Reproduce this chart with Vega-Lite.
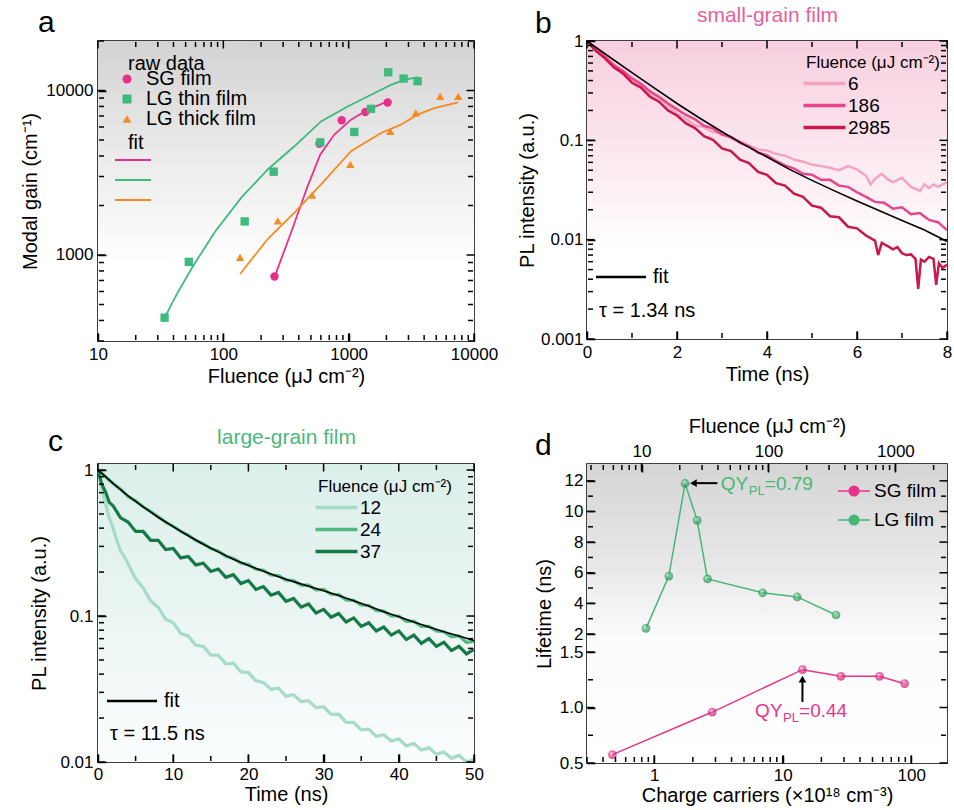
{
  "$schema": "https://vega.github.io/schema/vega-lite/v6.json",
  "background": "white",
  "padding": {"left": 19, "top": 3, "right": 0, "bottom": 0},
  "columns": 2,
  "bounds": "flush",
  "spacing": {"row": 123, "column": 113},
  "resolve": {
    "scale": {"color": "independent", "fill": "independent", "stroke": "independent", "shape": "independent"},
    "legend": {"color": "independent", "fill": "independent", "stroke": "independent", "shape": "independent"}
  },
  "datasets": {
    "one": [{"k": 1}],
    "aTicks": [
      {"axis": "x", "v": 10, "kind": "major"}, {"axis": "x", "v": 100, "kind": "major"}, {"axis": "x", "v": 1000, "kind": "major"}, {"axis": "x", "v": 10000, "kind": "major"},
      {"axis": "x", "v": 20, "kind": "minor"}, {"axis": "x", "v": 30, "kind": "minor"}, {"axis": "x", "v": 40, "kind": "minor"}, {"axis": "x", "v": 50, "kind": "minor"},
      {"axis": "x", "v": 60, "kind": "minor"}, {"axis": "x", "v": 70, "kind": "minor"}, {"axis": "x", "v": 80, "kind": "minor"}, {"axis": "x", "v": 90, "kind": "minor"},
      {"axis": "x", "v": 200, "kind": "minor"}, {"axis": "x", "v": 300, "kind": "minor"}, {"axis": "x", "v": 400, "kind": "minor"}, {"axis": "x", "v": 500, "kind": "minor"},
      {"axis": "x", "v": 600, "kind": "minor"}, {"axis": "x", "v": 700, "kind": "minor"}, {"axis": "x", "v": 800, "kind": "minor"}, {"axis": "x", "v": 900, "kind": "minor"},
      {"axis": "x", "v": 2000, "kind": "minor"}, {"axis": "x", "v": 3000, "kind": "minor"}, {"axis": "x", "v": 4000, "kind": "minor"}, {"axis": "x", "v": 5000, "kind": "minor"},
      {"axis": "x", "v": 6000, "kind": "minor"}, {"axis": "x", "v": 7000, "kind": "minor"}, {"axis": "x", "v": 8000, "kind": "minor"}, {"axis": "x", "v": 9000, "kind": "minor"},
      {"axis": "y", "v": 1000, "kind": "major"}, {"axis": "y", "v": 10000, "kind": "major"},
      {"axis": "y", "v": 300, "kind": "minor"}, {"axis": "y", "v": 400, "kind": "minor"}, {"axis": "y", "v": 500, "kind": "minor"}, {"axis": "y", "v": 600, "kind": "minor"},
      {"axis": "y", "v": 700, "kind": "minor"}, {"axis": "y", "v": 800, "kind": "minor"}, {"axis": "y", "v": 900, "kind": "minor"}, {"axis": "y", "v": 2000, "kind": "minor"},
      {"axis": "y", "v": 3000, "kind": "minor"}, {"axis": "y", "v": 4000, "kind": "minor"}, {"axis": "y", "v": 5000, "kind": "minor"}, {"axis": "y", "v": 6000, "kind": "minor"},
      {"axis": "y", "v": 7000, "kind": "minor"}, {"axis": "y", "v": 8000, "kind": "minor"}, {"axis": "y", "v": 9000, "kind": "minor"}, {"axis": "y", "v": 20000, "kind": "minor"}
    ],
    "bTicks": [
      {"axis": "x", "v": 0, "kind": "major"}, {"axis": "x", "v": 2, "kind": "major"}, {"axis": "x", "v": 4, "kind": "major"}, {"axis": "x", "v": 6, "kind": "major"}, {"axis": "x", "v": 8, "kind": "major"},
      {"axis": "x", "v": 1, "kind": "minor"}, {"axis": "x", "v": 3, "kind": "minor"}, {"axis": "x", "v": 5, "kind": "minor"}, {"axis": "x", "v": 7, "kind": "minor"},
      {"axis": "y", "v": 0.001, "kind": "major"}, {"axis": "y", "v": 0.01, "kind": "major"}, {"axis": "y", "v": 0.1, "kind": "major"}, {"axis": "y", "v": 1, "kind": "major"},
      {"axis": "y", "v": 0.002, "kind": "minor"}, {"axis": "y", "v": 0.003, "kind": "minor"}, {"axis": "y", "v": 0.004, "kind": "minor"}, {"axis": "y", "v": 0.005, "kind": "minor"},
      {"axis": "y", "v": 0.006, "kind": "minor"}, {"axis": "y", "v": 0.007, "kind": "minor"}, {"axis": "y", "v": 0.008, "kind": "minor"}, {"axis": "y", "v": 0.009, "kind": "minor"},
      {"axis": "y", "v": 0.02, "kind": "minor"}, {"axis": "y", "v": 0.03, "kind": "minor"}, {"axis": "y", "v": 0.04, "kind": "minor"}, {"axis": "y", "v": 0.05, "kind": "minor"},
      {"axis": "y", "v": 0.06, "kind": "minor"}, {"axis": "y", "v": 0.07, "kind": "minor"}, {"axis": "y", "v": 0.08, "kind": "minor"}, {"axis": "y", "v": 0.09, "kind": "minor"},
      {"axis": "y", "v": 0.2, "kind": "minor"}, {"axis": "y", "v": 0.3, "kind": "minor"}, {"axis": "y", "v": 0.4, "kind": "minor"}, {"axis": "y", "v": 0.5, "kind": "minor"},
      {"axis": "y", "v": 0.6, "kind": "minor"}, {"axis": "y", "v": 0.7, "kind": "minor"}, {"axis": "y", "v": 0.8, "kind": "minor"}, {"axis": "y", "v": 0.9, "kind": "minor"}
    ],
    "cTicks": [
      {"axis": "x", "v": 0, "kind": "major"}, {"axis": "x", "v": 10, "kind": "major"}, {"axis": "x", "v": 20, "kind": "major"}, {"axis": "x", "v": 30, "kind": "major"},
      {"axis": "x", "v": 40, "kind": "major"}, {"axis": "x", "v": 50, "kind": "major"},
      {"axis": "x", "v": 5, "kind": "minor"}, {"axis": "x", "v": 15, "kind": "minor"}, {"axis": "x", "v": 25, "kind": "minor"}, {"axis": "x", "v": 35, "kind": "minor"}, {"axis": "x", "v": 45, "kind": "minor"},
      {"axis": "y", "v": 0.01, "kind": "major"}, {"axis": "y", "v": 0.1, "kind": "major"}, {"axis": "y", "v": 1, "kind": "major"},
      {"axis": "y", "v": 0.02, "kind": "minor"}, {"axis": "y", "v": 0.03, "kind": "minor"}, {"axis": "y", "v": 0.04, "kind": "minor"}, {"axis": "y", "v": 0.05, "kind": "minor"},
      {"axis": "y", "v": 0.06, "kind": "minor"}, {"axis": "y", "v": 0.07, "kind": "minor"}, {"axis": "y", "v": 0.08, "kind": "minor"}, {"axis": "y", "v": 0.09, "kind": "minor"},
      {"axis": "y", "v": 0.2, "kind": "minor"}, {"axis": "y", "v": 0.3, "kind": "minor"}, {"axis": "y", "v": 0.4, "kind": "minor"}, {"axis": "y", "v": 0.5, "kind": "minor"},
      {"axis": "y", "v": 0.6, "kind": "minor"}, {"axis": "y", "v": 0.7, "kind": "minor"}, {"axis": "y", "v": 0.8, "kind": "minor"}, {"axis": "y", "v": 0.9, "kind": "minor"}
    ],
    "dTicks": [
      {"axis": "c", "v": 1, "kind": "major"}, {"axis": "c", "v": 10, "kind": "major"}, {"axis": "c", "v": 100, "kind": "major"},
      {"axis": "c", "v": 0.3, "kind": "minor"}, {"axis": "c", "v": 0.4, "kind": "minor"}, {"axis": "c", "v": 0.5, "kind": "minor"}, {"axis": "c", "v": 0.6, "kind": "minor"},
      {"axis": "c", "v": 0.7, "kind": "minor"}, {"axis": "c", "v": 0.8, "kind": "minor"}, {"axis": "c", "v": 0.9, "kind": "minor"},
      {"axis": "c", "v": 2, "kind": "minor"}, {"axis": "c", "v": 3, "kind": "minor"}, {"axis": "c", "v": 4, "kind": "minor"}, {"axis": "c", "v": 5, "kind": "minor"},
      {"axis": "c", "v": 6, "kind": "minor"}, {"axis": "c", "v": 7, "kind": "minor"}, {"axis": "c", "v": 8, "kind": "minor"}, {"axis": "c", "v": 9, "kind": "minor"},
      {"axis": "c", "v": 20, "kind": "minor"}, {"axis": "c", "v": 30, "kind": "minor"}, {"axis": "c", "v": 40, "kind": "minor"}, {"axis": "c", "v": 50, "kind": "minor"},
      {"axis": "c", "v": 60, "kind": "minor"}, {"axis": "c", "v": 70, "kind": "minor"}, {"axis": "c", "v": 80, "kind": "minor"}, {"axis": "c", "v": 90, "kind": "minor"},
      {"axis": "f", "v": 10, "kind": "major"}, {"axis": "f", "v": 100, "kind": "major"}, {"axis": "f", "v": 1000, "kind": "major"},
      {"axis": "f", "v": 4, "kind": "minor"}, {"axis": "f", "v": 5, "kind": "minor"}, {"axis": "f", "v": 6, "kind": "minor"}, {"axis": "f", "v": 7, "kind": "minor"},
      {"axis": "f", "v": 8, "kind": "minor"}, {"axis": "f", "v": 9, "kind": "minor"},
      {"axis": "f", "v": 20, "kind": "minor"}, {"axis": "f", "v": 30, "kind": "minor"}, {"axis": "f", "v": 40, "kind": "minor"}, {"axis": "f", "v": 50, "kind": "minor"},
      {"axis": "f", "v": 60, "kind": "minor"}, {"axis": "f", "v": 70, "kind": "minor"}, {"axis": "f", "v": 80, "kind": "minor"}, {"axis": "f", "v": 90, "kind": "minor"},
      {"axis": "f", "v": 200, "kind": "minor"}, {"axis": "f", "v": 300, "kind": "minor"}, {"axis": "f", "v": 400, "kind": "minor"}, {"axis": "f", "v": 500, "kind": "minor"},
      {"axis": "f", "v": 600, "kind": "minor"}, {"axis": "f", "v": 700, "kind": "minor"}, {"axis": "f", "v": 800, "kind": "minor"}, {"axis": "f", "v": 900, "kind": "minor"},
      {"axis": "f", "v": 2000, "kind": "minor"},
      {"axis": "s", "v": 0.5, "kind": "major"}, {"axis": "s", "v": 1, "kind": "major"}, {"axis": "s", "v": 1.5, "kind": "major"},
      {"axis": "s", "v": 0.75, "kind": "minor"}, {"axis": "s", "v": 1.25, "kind": "minor"},
      {"axis": "l", "v": 2, "kind": "major"}, {"axis": "l", "v": 4, "kind": "major"}, {"axis": "l", "v": 6, "kind": "major"}, {"axis": "l", "v": 8, "kind": "major"},
      {"axis": "l", "v": 10, "kind": "major"}, {"axis": "l", "v": 12, "kind": "major"},
      {"axis": "l", "v": 3, "kind": "minor"}, {"axis": "l", "v": 5, "kind": "minor"}, {"axis": "l", "v": 7, "kind": "minor"}, {"axis": "l", "v": 9, "kind": "minor"}, {"axis": "l", "v": 11, "kind": "minor"}
    ],
    "aPts": [
      {"fluence": 256, "gain": 740, "film": "SG film"},
      {"fluence": 584, "gain": 4750, "film": "SG film"},
      {"fluence": 879, "gain": 6590, "film": "SG film"},
      {"fluence": 1358, "gain": 7400, "film": "SG film"},
      {"fluence": 2046, "gain": 8460, "film": "SG film"},
      {"fluence": 34, "gain": 416, "film": "LG thin film"},
      {"fluence": 53, "gain": 908, "film": "LG thin film"},
      {"fluence": 148, "gain": 1600, "film": "LG thin film"},
      {"fluence": 252, "gain": 3210, "film": "LG thin film"},
      {"fluence": 594, "gain": 4840, "film": "LG thin film"},
      {"fluence": 1109, "gain": 5600, "film": "LG thin film"},
      {"fluence": 1506, "gain": 7740, "film": "LG thin film"},
      {"fluence": 2070, "gain": 12910, "film": "LG thin film"},
      {"fluence": 2743, "gain": 11820, "film": "LG thin film"},
      {"fluence": 3548, "gain": 11390, "film": "LG thin film"},
      {"fluence": 136, "gain": 968, "film": "LG thick film"},
      {"fluence": 272, "gain": 1615, "film": "LG thick film"},
      {"fluence": 510, "gain": 2310, "film": "LG thick film"},
      {"fluence": 1031, "gain": 3550, "film": "LG thick film"},
      {"fluence": 2148, "gain": 5650, "film": "LG thick film"},
      {"fluence": 3435, "gain": 7300, "film": "LG thick film"},
      {"fluence": 5370, "gain": 9200, "film": "LG thick film"},
      {"fluence": 7480, "gain": 9200, "film": "LG thick film"}
    ],
    "aFit": [
      {"fluence": 256, "gain": 733, "fit": "SG fit"},
      {"fluence": 347, "gain": 1371, "fit": "SG fit"},
      {"fluence": 471, "gain": 2625, "fit": "SG fit"},
      {"fluence": 594, "gain": 4085, "fit": "SG fit"},
      {"fluence": 769, "gain": 5400, "fit": "SG fit"},
      {"fluence": 1045, "gain": 6650, "fit": "SG fit"},
      {"fluence": 1417, "gain": 7640, "fit": "SG fit"},
      {"fluence": 2046, "gain": 8580, "fit": "SG fit"},
      {"fluence": 34, "gain": 416, "fit": "LG thin fit"},
      {"fluence": 43.4, "gain": 594, "fit": "LG thin fit"},
      {"fluence": 55.5, "gain": 822, "fit": "LG thin fit"},
      {"fluence": 85, "gain": 1371, "fit": "LG thin fit"},
      {"fluence": 139, "gain": 2233, "fit": "LG thin fit"},
      {"fluence": 226, "gain": 3310, "fit": "LG thin fit"},
      {"fluence": 369, "gain": 4580, "fit": "LG thin fit"},
      {"fluence": 602, "gain": 6490, "fit": "LG thin fit"},
      {"fluence": 982, "gain": 8000, "fit": "LG thin fit"},
      {"fluence": 1417, "gain": 9200, "fit": "LG thin fit"},
      {"fluence": 2174, "gain": 10820, "fit": "LG thin fit"},
      {"fluence": 2778, "gain": 11600, "fit": "LG thin fit"},
      {"fluence": 3548, "gain": 12050, "fit": "LG thin fit"},
      {"fluence": 136, "gain": 767, "fit": "LG thick fit"},
      {"fluence": 226, "gain": 1250, "fit": "LG thick fit"},
      {"fluence": 369, "gain": 1812, "fit": "LG thick fit"},
      {"fluence": 602, "gain": 2686, "fit": "LG thick fit"},
      {"fluence": 1045, "gain": 4275, "fit": "LG thick fit"},
      {"fluence": 1811, "gain": 5520, "fit": "LG thick fit"},
      {"fluence": 2612, "gain": 6200, "fit": "LG thick fit"},
      {"fluence": 3548, "gain": 7130, "fit": "LG thick fit"},
      {"fluence": 4820, "gain": 7820, "fit": "LG thick fit"},
      {"fluence": 7480, "gain": 8460, "fit": "LG thick fit"}
    ],
    "bTr": [
      {"t": 0.0, "I": 1.0, "fluence": "6"}, {"t": 0.2, "I": 0.81, "fluence": "6"}, {"t": 0.4, "I": 0.68, "fluence": "6"}, {"t": 0.6, "I": 0.56, "fluence": "6"},
      {"t": 0.8, "I": 0.48, "fluence": "6"}, {"t": 1.0, "I": 0.41, "fluence": "6"}, {"t": 1.2, "I": 0.36, "fluence": "6"}, {"t": 1.4, "I": 0.30, "fluence": "6"},
      {"t": 1.6, "I": 0.265, "fluence": "6"}, {"t": 1.8, "I": 0.225, "fluence": "6"}, {"t": 2.0, "I": 0.185, "fluence": "6"}, {"t": 2.2, "I": 0.165, "fluence": "6"},
      {"t": 2.4, "I": 0.142, "fluence": "6"}, {"t": 2.6, "I": 0.135, "fluence": "6"}, {"t": 2.8, "I": 0.121, "fluence": "6"}, {"t": 3.0, "I": 0.118, "fluence": "6"},
      {"t": 3.2, "I": 0.105, "fluence": "6"}, {"t": 3.4, "I": 0.098, "fluence": "6"}, {"t": 3.6, "I": 0.088, "fluence": "6"}, {"t": 3.8, "I": 0.081, "fluence": "6"},
      {"t": 4.0, "I": 0.079, "fluence": "6"}, {"t": 4.2, "I": 0.073, "fluence": "6"}, {"t": 4.4, "I": 0.070, "fluence": "6"}, {"t": 4.6, "I": 0.064, "fluence": "6"},
      {"t": 4.8, "I": 0.061, "fluence": "6"}, {"t": 5.0, "I": 0.057, "fluence": "6"}, {"t": 5.2, "I": 0.055, "fluence": "6"}, {"t": 5.4, "I": 0.053, "fluence": "6"},
      {"t": 5.6, "I": 0.050, "fluence": "6"}, {"t": 5.8, "I": 0.055, "fluence": "6"}, {"t": 6.0, "I": 0.051, "fluence": "6"}, {"t": 6.2, "I": 0.044, "fluence": "6"},
      {"t": 6.3, "I": 0.036, "fluence": "6"}, {"t": 6.4, "I": 0.041, "fluence": "6"}, {"t": 6.55, "I": 0.046, "fluence": "6"}, {"t": 6.7, "I": 0.040, "fluence": "6"},
      {"t": 6.8, "I": 0.038, "fluence": "6"}, {"t": 7.0, "I": 0.042, "fluence": "6"}, {"t": 7.2, "I": 0.034, "fluence": "6"}, {"t": 7.4, "I": 0.031, "fluence": "6"},
      {"t": 7.5, "I": 0.036, "fluence": "6"}, {"t": 7.6, "I": 0.033, "fluence": "6"}, {"t": 7.7, "I": 0.036, "fluence": "6"}, {"t": 7.8, "I": 0.034, "fluence": "6"},
      {"t": 8.0, "I": 0.038, "fluence": "6"},
      {"t": 0.0, "I": 1.0, "fluence": "186"}, {"t": 0.2, "I": 0.82, "fluence": "186"}, {"t": 0.4, "I": 0.69, "fluence": "186"}, {"t": 0.6, "I": 0.57, "fluence": "186"},
      {"t": 0.8, "I": 0.50, "fluence": "186"}, {"t": 1.0, "I": 0.42, "fluence": "186"}, {"t": 1.2, "I": 0.37, "fluence": "186"}, {"t": 1.4, "I": 0.31, "fluence": "186"},
      {"t": 1.6, "I": 0.275, "fluence": "186"}, {"t": 1.8, "I": 0.235, "fluence": "186"}, {"t": 2.0, "I": 0.205, "fluence": "186"}, {"t": 2.2, "I": 0.180, "fluence": "186"},
      {"t": 2.4, "I": 0.163, "fluence": "186"}, {"t": 2.6, "I": 0.140, "fluence": "186"}, {"t": 2.8, "I": 0.132, "fluence": "186"}, {"t": 3.0, "I": 0.114, "fluence": "186"},
      {"t": 3.2, "I": 0.108, "fluence": "186"}, {"t": 3.4, "I": 0.094, "fluence": "186"}, {"t": 3.6, "I": 0.087, "fluence": "186"}, {"t": 3.8, "I": 0.075, "fluence": "186"},
      {"t": 4.0, "I": 0.071, "fluence": "186"}, {"t": 4.2, "I": 0.062, "fluence": "186"}, {"t": 4.4, "I": 0.056, "fluence": "186"}, {"t": 4.6, "I": 0.052, "fluence": "186"},
      {"t": 4.8, "I": 0.046, "fluence": "186"}, {"t": 5.0, "I": 0.045, "fluence": "186"}, {"t": 5.2, "I": 0.040, "fluence": "186"}, {"t": 5.4, "I": 0.040, "fluence": "186"},
      {"t": 5.6, "I": 0.035, "fluence": "186"}, {"t": 5.8, "I": 0.034, "fluence": "186"}, {"t": 6.0, "I": 0.030, "fluence": "186"}, {"t": 6.2, "I": 0.027, "fluence": "186"},
      {"t": 6.4, "I": 0.024, "fluence": "186"}, {"t": 6.6, "I": 0.0235, "fluence": "186"}, {"t": 6.8, "I": 0.0205, "fluence": "186"}, {"t": 7.0, "I": 0.0212, "fluence": "186"},
      {"t": 7.2, "I": 0.018, "fluence": "186"}, {"t": 7.4, "I": 0.0185, "fluence": "186"}, {"t": 7.6, "I": 0.0158, "fluence": "186"}, {"t": 7.8, "I": 0.015, "fluence": "186"},
      {"t": 8.0, "I": 0.0125, "fluence": "186"},
      {"t": 0.0, "I": 1.0, "fluence": "2985"}, {"t": 0.2, "I": 0.79, "fluence": "2985"}, {"t": 0.4, "I": 0.67, "fluence": "2985"}, {"t": 0.6, "I": 0.54, "fluence": "2985"},
      {"t": 0.8, "I": 0.47, "fluence": "2985"}, {"t": 1.0, "I": 0.38, "fluence": "2985"}, {"t": 1.2, "I": 0.34, "fluence": "2985"}, {"t": 1.4, "I": 0.275, "fluence": "2985"},
      {"t": 1.6, "I": 0.245, "fluence": "2985"}, {"t": 1.8, "I": 0.200, "fluence": "2985"}, {"t": 2.0, "I": 0.178, "fluence": "2985"}, {"t": 2.2, "I": 0.148, "fluence": "2985"},
      {"t": 2.4, "I": 0.133, "fluence": "2985"}, {"t": 2.6, "I": 0.110, "fluence": "2985"}, {"t": 2.8, "I": 0.101, "fluence": "2985"}, {"t": 3.0, "I": 0.083, "fluence": "2985"},
      {"t": 3.2, "I": 0.078, "fluence": "2985"}, {"t": 3.4, "I": 0.064, "fluence": "2985"}, {"t": 3.6, "I": 0.059, "fluence": "2985"}, {"t": 3.8, "I": 0.048, "fluence": "2985"},
      {"t": 4.0, "I": 0.045, "fluence": "2985"}, {"t": 4.2, "I": 0.037, "fluence": "2985"}, {"t": 4.4, "I": 0.035, "fluence": "2985"}, {"t": 4.6, "I": 0.029, "fluence": "2985"},
      {"t": 4.8, "I": 0.027, "fluence": "2985"}, {"t": 5.0, "I": 0.022, "fluence": "2985"}, {"t": 5.2, "I": 0.021, "fluence": "2985"}, {"t": 5.4, "I": 0.0172, "fluence": "2985"},
      {"t": 5.6, "I": 0.0168, "fluence": "2985"}, {"t": 5.8, "I": 0.0135, "fluence": "2985"}, {"t": 6.0, "I": 0.013, "fluence": "2985"}, {"t": 6.2, "I": 0.011, "fluence": "2985"},
      {"t": 6.4, "I": 0.0098, "fluence": "2985"}, {"t": 6.47, "I": 0.007, "fluence": "2985"}, {"t": 6.55, "I": 0.0093, "fluence": "2985"}, {"t": 6.7, "I": 0.0085, "fluence": "2985"},
      {"t": 6.8, "I": 0.008, "fluence": "2985"}, {"t": 6.9, "I": 0.0084, "fluence": "2985"}, {"t": 7.0, "I": 0.0073, "fluence": "2985"}, {"t": 7.1, "I": 0.007, "fluence": "2985"},
      {"t": 7.2, "I": 0.0071, "fluence": "2985"}, {"t": 7.3, "I": 0.0064, "fluence": "2985"}, {"t": 7.36, "I": 0.0032, "fluence": "2985"}, {"t": 7.42, "I": 0.0063, "fluence": "2985"},
      {"t": 7.5, "I": 0.006, "fluence": "2985"}, {"t": 7.6, "I": 0.0067, "fluence": "2985"}, {"t": 7.7, "I": 0.0064, "fluence": "2985"}, {"t": 7.76, "I": 0.0035, "fluence": "2985"},
      {"t": 7.82, "I": 0.0058, "fluence": "2985"}, {"t": 7.9, "I": 0.0052, "fluence": "2985"}, {"t": 8.0, "I": 0.0056, "fluence": "2985"}
    ],
    "bFit": [
      {"t": 0, "I": 1.0, "series": "fit"}, {"t": 0.5, "I": 0.69, "series": "fit"}, {"t": 1, "I": 0.48, "series": "fit"}, {"t": 1.5, "I": 0.335, "series": "fit"},
      {"t": 2, "I": 0.235, "series": "fit"}, {"t": 2.5, "I": 0.168, "series": "fit"}, {"t": 3, "I": 0.122, "series": "fit"}, {"t": 3.5, "I": 0.09, "series": "fit"},
      {"t": 4, "I": 0.068, "series": "fit"}, {"t": 4.5, "I": 0.051, "series": "fit"}, {"t": 5, "I": 0.0395, "series": "fit"}, {"t": 5.5, "I": 0.031, "series": "fit"},
      {"t": 6, "I": 0.0245, "series": "fit"}, {"t": 6.5, "I": 0.0195, "series": "fit"}, {"t": 7, "I": 0.0156, "series": "fit"}, {"t": 7.5, "I": 0.0125, "series": "fit"},
      {"t": 8, "I": 0.0096, "series": "fit"}
    ],
    "cTr": [
      {"t": 0, "I": 1.0, "fluence": "12"}, {"t": 0.5, "I": 0.75, "fluence": "12"}, {"t": 1, "I": 0.59, "fluence": "12"}, {"t": 1.5, "I": 0.47, "fluence": "12"},
      {"t": 2, "I": 0.40, "fluence": "12"}, {"t": 2.5, "I": 0.33, "fluence": "12"}, {"t": 3, "I": 0.28, "fluence": "12"}, {"t": 3.5, "I": 0.255, "fluence": "12"},
      {"t": 4, "I": 0.228, "fluence": "12"}, {"t": 5, "I": 0.18, "fluence": "12"}, {"t": 6, "I": 0.156, "fluence": "12"}, {"t": 7, "I": 0.127, "fluence": "12"},
      {"t": 8, "I": 0.115, "fluence": "12"}, {"t": 9, "I": 0.095, "fluence": "12"}, {"t": 10, "I": 0.09, "fluence": "12"}, {"t": 11, "I": 0.076, "fluence": "12"},
      {"t": 12, "I": 0.073, "fluence": "12"}, {"t": 13, "I": 0.063, "fluence": "12"}, {"t": 14, "I": 0.062, "fluence": "12"}, {"t": 15, "I": 0.054, "fluence": "12"},
      {"t": 16, "I": 0.054, "fluence": "12"}, {"t": 17, "I": 0.047, "fluence": "12"}, {"t": 18, "I": 0.0475, "fluence": "12"}, {"t": 19, "I": 0.0415, "fluence": "12"},
      {"t": 20, "I": 0.041, "fluence": "12"}, {"t": 21, "I": 0.036, "fluence": "12"}, {"t": 22, "I": 0.035, "fluence": "12"}, {"t": 23, "I": 0.0315, "fluence": "12"},
      {"t": 24, "I": 0.032, "fluence": "12"}, {"t": 25, "I": 0.0282, "fluence": "12"}, {"t": 26, "I": 0.0289, "fluence": "12"}, {"t": 27, "I": 0.0259, "fluence": "12"},
      {"t": 28, "I": 0.0263, "fluence": "12"}, {"t": 29, "I": 0.0235, "fluence": "12"}, {"t": 30, "I": 0.0239, "fluence": "12"}, {"t": 31, "I": 0.0212, "fluence": "12"},
      {"t": 32, "I": 0.0213, "fluence": "12"}, {"t": 33, "I": 0.0187, "fluence": "12"}, {"t": 34, "I": 0.0187, "fluence": "12"}, {"t": 35, "I": 0.0166, "fluence": "12"},
      {"t": 36, "I": 0.0168, "fluence": "12"}, {"t": 37, "I": 0.015, "fluence": "12"}, {"t": 38, "I": 0.0154, "fluence": "12"}, {"t": 39, "I": 0.0139, "fluence": "12"},
      {"t": 40, "I": 0.0144, "fluence": "12"}, {"t": 41, "I": 0.0129, "fluence": "12"}, {"t": 42, "I": 0.0134, "fluence": "12"}, {"t": 43, "I": 0.0121, "fluence": "12"},
      {"t": 44, "I": 0.0125, "fluence": "12"}, {"t": 45, "I": 0.0113, "fluence": "12"}, {"t": 46, "I": 0.0117, "fluence": "12"}, {"t": 47, "I": 0.0106, "fluence": "12"},
      {"t": 48, "I": 0.0111, "fluence": "12"}, {"t": 49, "I": 0.0100, "fluence": "12"}, {"t": 50, "I": 0.0104, "fluence": "12"},
      {"t": 0, "I": 1.0, "fluence": "24"}, {"t": 0.5, "I": 0.95, "fluence": "24"}, {"t": 1, "I": 0.90, "fluence": "24"}, {"t": 1.5, "I": 0.85, "fluence": "24"},
      {"t": 2, "I": 0.81, "fluence": "24"}, {"t": 3, "I": 0.74, "fluence": "24"}, {"t": 4, "I": 0.66, "fluence": "24"}, {"t": 5, "I": 0.615, "fluence": "24"},
      {"t": 6, "I": 0.56, "fluence": "24"}, {"t": 7, "I": 0.52, "fluence": "24"}, {"t": 8, "I": 0.478, "fluence": "24"}, {"t": 9, "I": 0.44, "fluence": "24"},
      {"t": 10, "I": 0.412, "fluence": "24"}, {"t": 11, "I": 0.38, "fluence": "24"}, {"t": 12, "I": 0.358, "fluence": "24"}, {"t": 13, "I": 0.33, "fluence": "24"},
      {"t": 14, "I": 0.313, "fluence": "24"}, {"t": 15, "I": 0.29, "fluence": "24"}, {"t": 16, "I": 0.278, "fluence": "24"}, {"t": 17, "I": 0.257, "fluence": "24"},
      {"t": 18, "I": 0.248, "fluence": "24"}, {"t": 19, "I": 0.231, "fluence": "24"}, {"t": 20, "I": 0.225, "fluence": "24"}, {"t": 21, "I": 0.209, "fluence": "24"},
      {"t": 22, "I": 0.206, "fluence": "24"}, {"t": 23, "I": 0.191, "fluence": "24"}, {"t": 24, "I": 0.189, "fluence": "24"}, {"t": 25, "I": 0.176, "fluence": "24"},
      {"t": 26, "I": 0.175, "fluence": "24"}, {"t": 27, "I": 0.163, "fluence": "24"}, {"t": 28, "I": 0.163, "fluence": "24"}, {"t": 29, "I": 0.151, "fluence": "24"},
      {"t": 30, "I": 0.152, "fluence": "24"}, {"t": 31, "I": 0.141, "fluence": "24"}, {"t": 32, "I": 0.14, "fluence": "24"}, {"t": 33, "I": 0.129, "fluence": "24"},
      {"t": 34, "I": 0.128, "fluence": "24"}, {"t": 35, "I": 0.119, "fluence": "24"}, {"t": 36, "I": 0.118, "fluence": "24"}, {"t": 37, "I": 0.109, "fluence": "24"},
      {"t": 38, "I": 0.108, "fluence": "24"}, {"t": 39, "I": 0.1, "fluence": "24"}, {"t": 40, "I": 0.1, "fluence": "24"}, {"t": 41, "I": 0.092, "fluence": "24"},
      {"t": 42, "I": 0.092, "fluence": "24"}, {"t": 43, "I": 0.085, "fluence": "24"}, {"t": 44, "I": 0.085, "fluence": "24"}, {"t": 45, "I": 0.079, "fluence": "24"},
      {"t": 46, "I": 0.078, "fluence": "24"}, {"t": 47, "I": 0.072, "fluence": "24"}, {"t": 48, "I": 0.073, "fluence": "24"}, {"t": 49, "I": 0.066, "fluence": "24"},
      {"t": 50, "I": 0.067, "fluence": "24"},
      {"t": 0, "I": 1.0, "fluence": "37"}, {"t": 0.5, "I": 0.80, "fluence": "37"}, {"t": 1, "I": 0.71, "fluence": "37"}, {"t": 1.5, "I": 0.60, "fluence": "37"},
      {"t": 2, "I": 0.57, "fluence": "37"}, {"t": 3, "I": 0.47, "fluence": "37"}, {"t": 4, "I": 0.44, "fluence": "37"}, {"t": 5, "I": 0.38, "fluence": "37"},
      {"t": 6, "I": 0.38, "fluence": "37"}, {"t": 7, "I": 0.33, "fluence": "37"}, {"t": 8, "I": 0.33, "fluence": "37"}, {"t": 9, "I": 0.285, "fluence": "37"},
      {"t": 10, "I": 0.29, "fluence": "37"}, {"t": 11, "I": 0.25, "fluence": "37"}, {"t": 12, "I": 0.256, "fluence": "37"}, {"t": 13, "I": 0.224, "fluence": "37"},
      {"t": 14, "I": 0.23, "fluence": "37"}, {"t": 15, "I": 0.202, "fluence": "37"}, {"t": 16, "I": 0.21, "fluence": "37"}, {"t": 17, "I": 0.184, "fluence": "37"},
      {"t": 18, "I": 0.192, "fluence": "37"}, {"t": 19, "I": 0.167, "fluence": "37"}, {"t": 20, "I": 0.175, "fluence": "37"}, {"t": 21, "I": 0.152, "fluence": "37"},
      {"t": 22, "I": 0.159, "fluence": "37"}, {"t": 23, "I": 0.139, "fluence": "37"}, {"t": 24, "I": 0.145, "fluence": "37"}, {"t": 25, "I": 0.126, "fluence": "37"},
      {"t": 26, "I": 0.132, "fluence": "37"}, {"t": 27, "I": 0.115, "fluence": "37"}, {"t": 28, "I": 0.121, "fluence": "37"}, {"t": 29, "I": 0.105, "fluence": "37"},
      {"t": 30, "I": 0.111, "fluence": "37"}, {"t": 31, "I": 0.098, "fluence": "37"}, {"t": 32, "I": 0.104, "fluence": "37"}, {"t": 33, "I": 0.091, "fluence": "37"},
      {"t": 34, "I": 0.097, "fluence": "37"}, {"t": 35, "I": 0.085, "fluence": "37"}, {"t": 36, "I": 0.09, "fluence": "37"}, {"t": 37, "I": 0.079, "fluence": "37"},
      {"t": 38, "I": 0.084, "fluence": "37"}, {"t": 39, "I": 0.074, "fluence": "37"}, {"t": 40, "I": 0.079, "fluence": "37"}, {"t": 41, "I": 0.069, "fluence": "37"},
      {"t": 42, "I": 0.074, "fluence": "37"}, {"t": 43, "I": 0.065, "fluence": "37"}, {"t": 44, "I": 0.07, "fluence": "37"}, {"t": 45, "I": 0.062, "fluence": "37"},
      {"t": 46, "I": 0.066, "fluence": "37"}, {"t": 47, "I": 0.058, "fluence": "37"}, {"t": 48, "I": 0.062, "fluence": "37"}, {"t": 49, "I": 0.055, "fluence": "37"},
      {"t": 50, "I": 0.059, "fluence": "37"}
    ],
    "cFit": [
      {"t": 0, "I": 1.0, "series": "fit"}, {"t": 1, "I": 0.9, "series": "fit"}, {"t": 2, "I": 0.81, "series": "fit"}, {"t": 3, "I": 0.735, "series": "fit"},
      {"t": 4, "I": 0.665, "series": "fit"}, {"t": 6, "I": 0.56, "series": "fit"}, {"t": 8, "I": 0.475, "series": "fit"}, {"t": 10, "I": 0.41, "series": "fit"},
      {"t": 12, "I": 0.355, "series": "fit"}, {"t": 14, "I": 0.31, "series": "fit"}, {"t": 16, "I": 0.275, "series": "fit"}, {"t": 18, "I": 0.245, "series": "fit"},
      {"t": 20, "I": 0.222, "series": "fit"}, {"t": 22, "I": 0.203, "series": "fit"}, {"t": 24, "I": 0.186, "series": "fit"}, {"t": 26, "I": 0.172, "series": "fit"},
      {"t": 28, "I": 0.16, "series": "fit"}, {"t": 30, "I": 0.149, "series": "fit"}, {"t": 32, "I": 0.138, "series": "fit"}, {"t": 34, "I": 0.127, "series": "fit"},
      {"t": 36, "I": 0.117, "series": "fit"}, {"t": 38, "I": 0.107, "series": "fit"}, {"t": 40, "I": 0.099, "series": "fit"}, {"t": 42, "I": 0.091, "series": "fit"},
      {"t": 44, "I": 0.084, "series": "fit"}, {"t": 46, "I": 0.078, "series": "fit"}, {"t": 48, "I": 0.073, "series": "fit"}, {"t": 50, "I": 0.068, "series": "fit"}
    ],
    "dPts": [
      {"carriers": 0.473, "lifetime": 0.575, "film": "SG film"},
      {"carriers": 2.83, "lifetime": 0.959, "film": "SG film"},
      {"carriers": 14.25, "lifetime": 1.341, "film": "SG film"},
      {"carriers": 28.4, "lifetime": 1.281, "film": "SG film"},
      {"carriers": 56.7, "lifetime": 1.281, "film": "SG film"},
      {"carriers": 88.9, "lifetime": 1.215, "film": "SG film"},
      {"carriers": 0.864, "lifetime": 2.37, "film": "LG film"},
      {"carriers": 1.30, "lifetime": 5.78, "film": "LG film"},
      {"carriers": 1.74, "lifetime": 11.83, "film": "LG film"},
      {"carriers": 2.16, "lifetime": 9.42, "film": "LG film"},
      {"carriers": 2.60, "lifetime": 5.60, "film": "LG film"},
      {"carriers": 6.98, "lifetime": 4.69, "film": "LG film"},
      {"carriers": 12.97, "lifetime": 4.42, "film": "LG film"},
      {"carriers": 26.0, "lifetime": 3.24, "film": "LG film"}
    ],
    "dArrows": [
      {"x1": 3.1, "x2": 2.02, "y1": 11.85, "y2": 11.85, "film": "LG film"},
      {"x1": 14.25, "x2": 14.25, "y1": 1.05, "y2": 1.255, "film": "SG film"}
    ],
    "dLabels": [
      {"carriers": 3.3, "lifetime": 11.8, "qy": "=0.79", "film": "LG film"},
      {"carriers": 6.1, "lifetime": 0.965, "qy": "=0.44", "film": "SG film"}
    ],
    "dAxis": [
      {"fluence": 100, "carriers": 10, "lifetime": 1}
    ]
  },
  "concat": [
    {
      "width": 376,
      "height": 300,
      "title": {"text": "a", "dx": -60, "offset": 2},
      "resolve": {"axis": {"x": "independent", "y": "independent"}},
      "layer": [
        {
          "data": {"name": "one"},
          "mark": {"type": "rect", "strokeWidth": 0,
            "fill": {"gradient": "linear", "x1": 0, "y1": 0, "x2": 0, "y2": 1, "stops": [{"offset": 0, "color": "#d3d3d3"}, {"offset": 0.35, "color": "#e9e9e9"}, {"offset": 0.75, "color": "#ffffff"}, {"offset": 1, "color": "#ffffff"}]}},
          "encoding": {
            "x": {"datum": 10, "type": "quantitative", "scale": {"type": "log", "domain": [10, 10000], "nice": false}, "axis": null},
            "x2": {"datum": 10000},
            "y": {"datum": 20000, "type": "quantitative", "scale": {"type": "log", "domain": [300, 20000], "nice": false}, "axis": null},
            "y2": {"datum": 300}
          }
        },
        {
          "layer": [
            {
              "data": {"name": "aFit"},
              "mark": {"type": "line", "strokeWidth": 1.8, "clip": true},
              "encoding": {
                "x": {"field": "fluence", "type": "quantitative", "scale": {"type": "log", "domain": [10, 10000], "nice": false},
                  "axis": {"orient": "bottom", "title": "Fluence (μJ cm⁻²)", "format": "d", "labelOverlap": false, "labelFlush": false, "labelPadding": 5, "titlePadding": 4,
                    "values": [10, 100, 1000, 10000], "tickSize": 8, "offset": -8, "zindex": 1}},
                "y": {"field": "gain", "type": "quantitative", "scale": {"type": "log", "domain": [300, 20000], "nice": false},
                  "axis": {"orient": "left", "title": "Modal gain (cm⁻¹)", "format": "d", "labelOverlap": false, "labelPadding": 5, "titlePadding": 5,
                    "values": [1000, 10000], "tickSize": 8, "offset": -8, "zindex": 1}},
                "stroke": {"field": "fit", "type": "nominal",
                  "scale": {"domain": ["SG fit", "LG thin fit", "LG thick fit"], "range": ["#e8308a", "#3fba7d", "#f58b1f"]},
                  "legend": {"title": "fit", "orient": "none", "legendX": 30, "legendY": 92, "padding": 0, "rowPadding": -1, "symbolType": "M-3,0H3", "symbolSize": 144, "symbolOffset": -5, "symbolStrokeWidth": 2, "labelExpr": "''", "titleFontSize": 20, "titlePadding": -3}}
              }
            },
            {
              "data": {"name": "aPts"},
              "mark": {"type": "point", "filled": true, "opacity": 1, "size": 70, "clip": true},
              "encoding": {
                "x": {"field": "fluence", "type": "quantitative"},
                "y": {"field": "gain", "type": "quantitative"},
                "fill": {"field": "film", "type": "nominal",
                  "scale": {"domain": ["SG film", "LG thin film", "LG thick film"], "range": ["#e8308a", "#3fba7d", "#f58b1f"]},
                  "legend": {"title": "raw data", "orient": "none", "legendX": 30, "legendY": 13, "padding": 0, "rowPadding": -2, "symbolOffset": -11, "labelOffset": 9, "symbolSize": 80, "symbolStrokeWidth": 0, "titleFontSize": 20, "labelFontSize": 20, "titlePadding": -5}},
                "shape": {"field": "film", "type": "nominal",
                  "scale": {"domain": ["SG film", "LG thin film", "LG thick film"], "range": ["circle", "square", "triangle-up"]},
                  "legend": {"title": "raw data", "orient": "none", "legendX": 30, "legendY": 13, "padding": 0, "rowPadding": -2, "symbolOffset": -11, "labelOffset": 9, "symbolSize": 80, "symbolStrokeWidth": 0, "titleFontSize": 20, "labelFontSize": 20, "titlePadding": -5}}
              }
            }
          ]
        },
        {
          "data": {"name": "aTicks"},
          "transform": [{"filter": "datum.axis == 'x'"}],
          "mark": {"type": "tick", "orient": "vertical", "thickness": 1.5, "color": "#000000", "opacity": 1, "yOffset": -3.5},
          "encoding": {
            "x": {"field": "v", "type": "quantitative", "axis": null},
            "y": {"datum": 300, "type": "quantitative", "axis": null},
            "size": {"field": "kind", "type": "nominal", "scale": {"domain": ["major", "minor"], "range": [8, 5]}, "legend": null}
          }
        },
        {
          "data": {"name": "aTicks"},
          "transform": [{"filter": "datum.axis == 'x'"}],
          "mark": {"type": "tick", "orient": "vertical", "thickness": 1.5, "color": "#000000", "opacity": 1, "yOffset": 3.5},
          "encoding": {
            "x": {"field": "v", "type": "quantitative", "axis": null},
            "y": {"datum": 20000, "type": "quantitative", "axis": null},
            "size": {"field": "kind", "type": "nominal", "scale": {"domain": ["major", "minor"], "range": [8, 5]}, "legend": null}
          }
        },
        {
          "data": {"name": "aTicks"},
          "transform": [{"filter": "datum.axis == 'y'"}],
          "mark": {"type": "tick", "orient": "horizontal", "thickness": 1.5, "color": "#000000", "opacity": 1, "xOffset": 3.5},
          "encoding": {
            "x": {"datum": 10, "type": "quantitative", "axis": null},
            "y": {"field": "v", "type": "quantitative", "axis": null},
            "size": {"field": "kind", "type": "nominal", "scale": {"domain": ["major", "minor"], "range": [8, 5]}, "legend": null}
          }
        },
        {
          "data": {"name": "aTicks"},
          "transform": [{"filter": "datum.axis == 'y'"}],
          "mark": {"type": "tick", "orient": "horizontal", "thickness": 1.5, "color": "#000000", "opacity": 1, "xOffset": -3.5},
          "encoding": {
            "x": {"datum": 10000, "type": "quantitative", "axis": null},
            "y": {"field": "v", "type": "quantitative", "axis": null},
            "size": {"field": "kind", "type": "nominal", "scale": {"domain": ["major", "minor"], "range": [8, 5]}, "legend": null}
          }
        }
      ]
    },
    {
      "width": 360,
      "height": 298,
      "title": {"text": "b", "dx": -52, "offset": -35},
      "resolve": {"axis": {"x": "independent", "y": "independent"}},
      "layer": [
        {
          "data": {"name": "one"},
          "mark": {"type": "rect", "strokeWidth": 0,
            "fill": {"gradient": "linear", "x1": 0, "y1": 0, "x2": 0, "y2": 1, "stops": [{"offset": 0, "color": "#f7cfdf"}, {"offset": 0.35, "color": "#fbe5ee"}, {"offset": 0.7, "color": "#ffffff"}, {"offset": 1, "color": "#ffffff"}]}},
          "encoding": {
            "x": {"datum": 0, "type": "quantitative", "scale": {"domain": [0, 8], "nice": false}, "axis": null},
            "x2": {"datum": 8},
            "y": {"datum": 1, "type": "quantitative", "scale": {"type": "log", "domain": [0.001, 1], "nice": false}, "axis": null},
            "y2": {"datum": 0.001}
          }
        },
        {
          "layer": [
            {
              "data": {"name": "bTr"},
              "mark": {"type": "line", "strokeWidth": 2.5, "clip": true},
              "encoding": {
                "x": {"field": "t", "type": "quantitative", "scale": {"domain": [0, 8], "nice": false},
                  "axis": {"orient": "bottom", "title": "Time (ns)", "labelOverlap": false, "labelFlush": false, "labelPadding": 5, "titlePadding": 4,
                    "values": [0, 2, 4, 6, 8], "tickSize": 8, "offset": -8, "zindex": 1}},
                "y": {"field": "I", "type": "quantitative", "scale": {"type": "log", "domain": [0.001, 1], "nice": false},
                  "axis": {"orient": "left", "title": "PL intensity (a.u.)", "format": "~g", "labelOverlap": false, "labelPadding": 4, "titlePadding": 3,
                    "values": [0.001, 0.01, 0.1, 1], "tickSize": 8, "offset": -8, "zindex": 1}},
                "color": {"field": "fluence", "type": "nominal",
                  "scale": {"domain": ["6", "186", "2985"], "range": ["#f4a3c2", "#e8468a", "#c9184b"]},
                  "legend": {"title": "Fluence (μJ cm⁻²)", "orient": "none", "legendX": 219, "legendY": 14, "padding": 0, "rowPadding": 2, "symbolType": "M-3,0H3", "symbolSize": 196, "symbolOffset": 9, "symbolStrokeWidth": 3.5, "titleFontSize": 17, "labelFontSize": 19, "labelOffset": 14, "titlePadding": 2}}
              }
            },
            {
              "data": {"name": "bFit"},
              "mark": {"type": "line", "strokeWidth": 1.6, "clip": true},
              "encoding": {
                "x": {"field": "t", "type": "quantitative"},
                "y": {"field": "I", "type": "quantitative"},
                "stroke": {"field": "series", "type": "nominal", "scale": {"domain": ["fit"], "range": ["#000000"]},
                  "legend": {"title": "τ = 1.34 ns", "titleOrient": "bottom", "orient": "none", "legendX": 12, "legendY": 226, "padding": 0, "symbolType": "M-3,0H3", "symbolSize": 278, "symbolOffset": 12, "symbolStrokeWidth": 2.5, "labelFontSize": 20, "titleFontSize": 20, "labelOffset": 22, "titlePadding": 14}}
              }
            }
          ]
        },
        {
          "data": {"name": "bTicks"},
          "transform": [{"filter": "datum.axis == 'x'"}],
          "mark": {"type": "tick", "orient": "vertical", "thickness": 1.5, "color": "#000000", "opacity": 1, "yOffset": -3.5},
          "encoding": {
            "x": {"field": "v", "type": "quantitative", "axis": null},
            "y": {"datum": 0.001, "type": "quantitative", "axis": null},
            "size": {"field": "kind", "type": "nominal", "scale": {"domain": ["major", "minor"], "range": [8, 5]}, "legend": null}
          }
        },
        {
          "data": {"name": "bTicks"},
          "transform": [{"filter": "datum.axis == 'x'"}],
          "mark": {"type": "tick", "orient": "vertical", "thickness": 1.5, "color": "#000000", "opacity": 1, "yOffset": 3.5},
          "encoding": {
            "x": {"field": "v", "type": "quantitative", "axis": null},
            "y": {"datum": 1, "type": "quantitative", "axis": null},
            "size": {"field": "kind", "type": "nominal", "scale": {"domain": ["major", "minor"], "range": [8, 5]}, "legend": null}
          }
        },
        {
          "data": {"name": "bTicks"},
          "transform": [{"filter": "datum.axis == 'y'"}],
          "mark": {"type": "tick", "orient": "horizontal", "thickness": 1.5, "color": "#000000", "opacity": 1, "xOffset": 3.5},
          "encoding": {
            "x": {"datum": 0, "type": "quantitative", "axis": null},
            "y": {"field": "v", "type": "quantitative", "axis": null},
            "size": {"field": "kind", "type": "nominal", "scale": {"domain": ["major", "minor"], "range": [8, 5]}, "legend": null}
          }
        },
        {
          "data": {"name": "bTicks"},
          "transform": [{"filter": "datum.axis == 'y'"}],
          "mark": {"type": "tick", "orient": "horizontal", "thickness": 1.5, "color": "#000000", "opacity": 1, "xOffset": -3.5},
          "encoding": {
            "x": {"datum": 8, "type": "quantitative", "axis": null},
            "y": {"field": "v", "type": "quantitative", "axis": null},
            "size": {"field": "kind", "type": "nominal", "scale": {"domain": ["major", "minor"], "range": [8, 5]}, "legend": null}
          }
        },
        {
          "data": {"name": "one"},
          "mark": {"type": "point", "opacity": 0},
          "encoding": {
            "x": {"datum": 4, "type": "quantitative",
              "axis": {"orient": "top", "title": "small-grain film", "titleColor": "#e8609a", "titleFontSize": 21, "titlePadding": 16, "labels": false, "ticks": false, "values": [0, 8]}},
            "y": {"datum": 0.1, "type": "quantitative", "axis": null}
          }
        }
      ]
    },
    {
      "width": 376,
      "height": 298,
      "title": {"text": "c", "dx": -50, "offset": -31},
      "resolve": {"axis": {"x": "independent", "y": "independent"}},
      "layer": [
        {
          "data": {"name": "one"},
          "mark": {"type": "rect", "strokeWidth": 0,
            "fill": {"gradient": "linear", "x1": 0, "y1": 0, "x2": 0, "y2": 1, "stops": [{"offset": 0, "color": "#dbefeb"}, {"offset": 0.5, "color": "#eaf5f3"}, {"offset": 1, "color": "#fbfdfd"}]}},
          "encoding": {
            "x": {"datum": 0, "type": "quantitative", "scale": {"domain": [0, 50], "nice": false}, "axis": null},
            "x2": {"datum": 50},
            "y": {"datum": 1.1, "type": "quantitative", "scale": {"type": "log", "domain": [0.01, 1.1], "nice": false}, "axis": null},
            "y2": {"datum": 0.01}
          }
        },
        {
          "layer": [
            {
              "data": {"name": "cTr"},
              "mark": {"type": "line", "strokeWidth": 3.2, "clip": true},
              "encoding": {
                "x": {"field": "t", "type": "quantitative", "scale": {"domain": [0, 50], "nice": false},
                  "axis": {"orient": "bottom", "title": "Time (ns)", "labelOverlap": false, "labelFlush": false, "labelPadding": 4, "titlePadding": 2,
                    "values": [0, 10, 20, 30, 40, 50], "tickSize": 8, "offset": -8, "zindex": 1}},
                "y": {"field": "I", "type": "quantitative", "scale": {"type": "log", "domain": [0.01, 1.1], "nice": false},
                  "axis": {"orient": "left", "title": "PL intensity (a.u.)", "format": "~g", "labelOverlap": false, "labelPadding": 5, "titlePadding": 10,
                    "values": [0.01, 0.1, 1], "tickSize": 8, "offset": -8, "zindex": 1}},
                "color": {"field": "fluence", "type": "nominal",
                  "scale": {"domain": ["12", "24", "37"], "range": ["#a6dbc7", "#4fb981", "#157a46"]},
                  "legend": {"title": "Fluence (μJ cm⁻²)", "orient": "none", "legendX": 220, "legendY": 15, "padding": 0, "rowPadding": 2, "symbolType": "M-3,0H3", "symbolSize": 196, "symbolOffset": 9, "symbolStrokeWidth": 3.5, "titleFontSize": 17, "labelFontSize": 19, "labelOffset": 14, "titlePadding": 2}}
              }
            },
            {
              "data": {"name": "cFit"},
              "mark": {"type": "line", "strokeWidth": 1.6, "clip": true},
              "encoding": {
                "x": {"field": "t", "type": "quantitative"},
                "y": {"field": "I", "type": "quantitative"},
                "stroke": {"field": "series", "type": "nominal", "scale": {"domain": ["fit"], "range": ["#000000"]},
                  "legend": {"title": "τ = 11.5 ns", "titleOrient": "bottom", "orient": "none", "legendX": 12, "legendY": 227, "padding": 0, "symbolType": "M-3,0H3", "symbolSize": 278, "symbolOffset": 12, "symbolStrokeWidth": 2.5, "labelFontSize": 20, "titleFontSize": 20, "labelOffset": 22, "titlePadding": 13}}
              }
            }
          ]
        },
        {
          "data": {"name": "cTicks"},
          "transform": [{"filter": "datum.axis == 'x'"}],
          "mark": {"type": "tick", "orient": "vertical", "thickness": 1.5, "color": "#000000", "opacity": 1, "yOffset": -3.5},
          "encoding": {
            "x": {"field": "v", "type": "quantitative", "axis": null},
            "y": {"datum": 0.01, "type": "quantitative", "axis": null},
            "size": {"field": "kind", "type": "nominal", "scale": {"domain": ["major", "minor"], "range": [8, 5]}, "legend": null}
          }
        },
        {
          "data": {"name": "cTicks"},
          "transform": [{"filter": "datum.axis == 'x'"}],
          "mark": {"type": "tick", "orient": "vertical", "thickness": 1.5, "color": "#000000", "opacity": 1, "yOffset": 3.5},
          "encoding": {
            "x": {"field": "v", "type": "quantitative", "axis": null},
            "y": {"datum": 1.1, "type": "quantitative", "axis": null},
            "size": {"field": "kind", "type": "nominal", "scale": {"domain": ["major", "minor"], "range": [8, 5]}, "legend": null}
          }
        },
        {
          "data": {"name": "cTicks"},
          "transform": [{"filter": "datum.axis == 'y'"}],
          "mark": {"type": "tick", "orient": "horizontal", "thickness": 1.5, "color": "#000000", "opacity": 1, "xOffset": 3.5},
          "encoding": {
            "x": {"datum": 0, "type": "quantitative", "axis": null},
            "y": {"field": "v", "type": "quantitative", "axis": null},
            "size": {"field": "kind", "type": "nominal", "scale": {"domain": ["major", "minor"], "range": [8, 5]}, "legend": null}
          }
        },
        {
          "data": {"name": "cTicks"},
          "transform": [{"filter": "datum.axis == 'y'"}],
          "mark": {"type": "tick", "orient": "horizontal", "thickness": 1.5, "color": "#000000", "opacity": 1, "xOffset": -3.5},
          "encoding": {
            "x": {"datum": 50, "type": "quantitative", "axis": null},
            "y": {"field": "v", "type": "quantitative", "axis": null},
            "size": {"field": "kind", "type": "nominal", "scale": {"domain": ["major", "minor"], "range": [8, 5]}, "legend": null}
          }
        },
        {
          "data": {"name": "one"},
          "mark": {"type": "point", "opacity": 0},
          "encoding": {
            "x": {"datum": 25, "type": "quantitative",
              "axis": {"orient": "top", "title": "large-grain film", "titleColor": "#4cb87c", "titleFontSize": 21, "titlePadding": 17, "labels": false, "ticks": false, "values": [0, 50]}},
            "y": {"datum": 0.1, "type": "quantitative", "axis": null}
          }
        }
      ]
    },
    {
      "width": 360,
      "height": 299,
      "title": {"text": "d", "dx": -52, "offset": -45},
      "resolve": {"scale": {"x": "independent", "y": "independent"}, "axis": {"x": "independent", "y": "independent"}},
      "layer": [
        {
          "data": {"name": "one"},
          "mark": {"type": "rect", "strokeWidth": 0,
            "fill": {"gradient": "linear", "x1": 0, "y1": 0, "x2": 0, "y2": 1, "stops": [{"offset": 0, "color": "#d5d5d5"}, {"offset": 0.35, "color": "#e8e8e8"}, {"offset": 0.58, "color": "#fbfbfb"}, {"offset": 1, "color": "#ffffff"}]}},
          "encoding": {
            "x": {"datum": 0.3, "type": "quantitative", "scale": {"type": "log", "domain": [0.3, 190], "nice": false}, "axis": null},
            "x2": {"datum": 190},
            "y": {"datum": 1, "type": "quantitative", "scale": {"domain": [0, 1], "nice": false, "zero": false},
              "axis": {"orient": "left", "title": "Lifetime (ns)", "labels": false, "ticks": false, "titlePadding": 33}},
            "y2": {"datum": 0}
          }
        },
        {
          "layer": [
            {
              "data": {"name": "dPts"},
              "transform": [{"filter": "datum.film == 'SG film'"}],
              "mark": {"type": "line", "strokeWidth": 1.5, "clip": true},
              "encoding": {
                "x": {"field": "carriers", "type": "quantitative", "scale": {"type": "log", "domain": [0.3, 190], "nice": false},
                  "axis": {"orient": "bottom", "title": "Charge carriers (×10¹⁸ cm⁻³)", "format": "d", "labelOverlap": false, "labelFlush": false, "labelPadding": 4, "titlePadding": 2,
                    "values": [1, 10, 100], "tickSize": 8, "offset": -8, "zindex": 1}},
                "y": {"field": "lifetime", "type": "quantitative",
                  "scale": {"domain": [0.5, 1.53], "range": [299, 184.7], "nice": false, "zero": false},
                  "axis": {"orient": "left", "title": null, "format": ".1f", "labelOverlap": false, "labelPadding": 4,
                    "values": [0.5, 1, 1.5], "tickSize": 8, "offset": -8, "zindex": 1}},
                "color": {"field": "film", "type": "nominal",
                  "scale": {"domain": ["SG film", "LG film"], "range": ["#e8338a", "#48b676"]},
                  "legend": {"title": null, "orient": "top-right", "offset": 10, "padding": 0, "rowPadding": 2,
                    "symbolType": "M-1,0L-0.3,0M0.3,0L1,0M0.3,0A0.3,0.3,0,1,1,-0.3,0A0.3,0.3,0,1,1,0.3,0Z",
                    "symbolSize": 1024, "symbolStrokeWidth": 1.5, "labelFontSize": 19, "labelOffset": 3,
                    "encode": {"symbols": {"update": {"fill": {"signal": "datum.value == 'SG film' ? '#e8338a' : '#48b676'"}}}}}}
              }
            },
            {
              "data": {"name": "dPts"},
              "transform": [{"filter": "datum.film == 'SG film'"}],
              "mark": {"type": "point", "filled": true, "size": 75, "strokeWidth": 0, "clip": true,
                "fill": {"gradient": "radial", "x1": 0.35, "y1": 0.3, "r1": 0, "x2": 0.5, "y2": 0.5, "r2": 0.55,
                  "stops": [{"offset": 0, "color": "#ffd9ea"}, {"offset": 0.45, "color": "#ec3f8e"}, {"offset": 1, "color": "#b0125a"}]}},
              "encoding": {
                "x": {"field": "carriers", "type": "quantitative"},
                "y": {"field": "lifetime", "type": "quantitative"}
              }
            },
            {
              "data": {"name": "dArrows"},
              "transform": [{"filter": "datum.film == 'SG film'"}],
              "mark": {"type": "rule", "strokeWidth": 2, "color": "#000"},
              "encoding": {
                "x": {"field": "x1", "type": "quantitative"},
                "x2": {"field": "x2"},
                "y": {"field": "y1", "type": "quantitative"},
                "y2": {"field": "y2"}
              }
            },
            {
              "data": {"name": "dArrows"},
              "transform": [{"filter": "datum.film == 'SG film'"}],
              "mark": {"type": "point", "filled": true, "size": 60, "color": "#000", "opacity": 1, "shape": "triangle-up"},
              "encoding": {
                "x": {"field": "x2", "type": "quantitative"},
                "y": {"field": "y2", "type": "quantitative"}
              }
            },
            {
              "data": {"name": "dLabels"},
              "transform": [{"filter": "datum.film == 'SG film'"}],
              "mark": {"type": "text", "align": "left", "baseline": "middle", "fontSize": 19, "text": "QY", "color": "#e8338a"},
              "encoding": {
                "x": {"field": "carriers", "type": "quantitative"},
                "y": {"field": "lifetime", "type": "quantitative"}
              }
            },
            {
              "data": {"name": "dLabels"},
              "transform": [{"filter": "datum.film == 'SG film'"}],
              "mark": {"type": "text", "align": "left", "baseline": "middle", "fontSize": 13, "dx": 28, "dy": 7, "text": "PL", "color": "#e8338a"},
              "encoding": {
                "x": {"field": "carriers", "type": "quantitative"},
                "y": {"field": "lifetime", "type": "quantitative"}
              }
            },
            {
              "data": {"name": "dLabels"},
              "transform": [{"filter": "datum.film == 'SG film'"}],
              "mark": {"type": "text", "align": "left", "baseline": "middle", "fontSize": 19, "dx": 44, "color": "#e8338a"},
              "encoding": {
                "x": {"field": "carriers", "type": "quantitative"},
                "y": {"field": "lifetime", "type": "quantitative"},
                "text": {"field": "qy"}
              }
            },
            {
              "data": {"name": "dTicks"},
              "transform": [{"filter": "datum.axis == 'c'"}],
              "mark": {"type": "tick", "orient": "vertical", "thickness": 1.5, "color": "#000000", "opacity": 1, "yOffset": -3.5},
              "encoding": {
                "x": {"field": "v", "type": "quantitative"},
                "y": {"datum": 0.5, "type": "quantitative"},
                "size": {"field": "kind", "type": "nominal", "scale": {"domain": ["major", "minor"], "range": [8, 5]}, "legend": null}
              }
            },
            {
              "data": {"name": "dTicks"},
              "transform": [{"filter": "datum.axis == 's'"}],
              "mark": {"type": "tick", "orient": "horizontal", "thickness": 1.5, "color": "#000000", "opacity": 1, "xOffset": 3.5},
              "encoding": {
                "x": {"datum": 0.3, "type": "quantitative"},
                "y": {"field": "v", "type": "quantitative"},
                "size": {"field": "kind", "type": "nominal", "scale": {"domain": ["major", "minor"], "range": [8, 5]}, "legend": null}
              }
            },
            {
              "data": {"name": "dTicks"},
              "transform": [{"filter": "datum.axis == 's'"}],
              "mark": {"type": "tick", "orient": "horizontal", "thickness": 1.5, "color": "#000000", "opacity": 1, "xOffset": -3.5},
              "encoding": {
                "x": {"datum": 190, "type": "quantitative"},
                "y": {"field": "v", "type": "quantitative"},
                "size": {"field": "kind", "type": "nominal", "scale": {"domain": ["major", "minor"], "range": [8, 5]}, "legend": null}
              }
            }
          ]
        },
        {
          "layer": [
            {
              "data": {"name": "dPts"},
              "transform": [{"filter": "datum.film == 'LG film'"}],
              "mark": {"type": "line", "strokeWidth": 1.5, "clip": true},
              "encoding": {
                "x": {"field": "carriers", "type": "quantitative", "scale": {"type": "log", "domain": [0.3, 190], "nice": false}, "axis": null},
                "y": {"field": "lifetime", "type": "quantitative",
                  "scale": {"domain": [1.85, 13.1], "range": [172.3, 0], "nice": false, "zero": false},
                  "axis": {"orient": "left", "title": null, "labelOverlap": false, "labelPadding": 4,
                    "values": [2, 4, 6, 8, 10, 12], "tickSize": 8, "offset": -8, "zindex": 1}},
                "color": {"field": "film", "type": "nominal",
                  "scale": {"domain": ["SG film", "LG film"], "range": ["#e8338a", "#48b676"]},
                  "legend": {"title": null, "orient": "top-right", "offset": 10, "padding": 0, "rowPadding": 2,
                    "symbolType": "M-1,0L-0.3,0M0.3,0L1,0M0.3,0A0.3,0.3,0,1,1,-0.3,0A0.3,0.3,0,1,1,0.3,0Z",
                    "symbolSize": 1024, "symbolStrokeWidth": 1.5, "labelFontSize": 19, "labelOffset": 3,
                    "encode": {"symbols": {"update": {"fill": {"signal": "datum.value == 'SG film' ? '#e8338a' : '#48b676'"}}}}}}
              }
            },
            {
              "data": {"name": "dPts"},
              "transform": [{"filter": "datum.film == 'LG film'"}],
              "mark": {"type": "point", "filled": true, "size": 75, "strokeWidth": 0, "clip": true,
                "fill": {"gradient": "radial", "x1": 0.35, "y1": 0.3, "r1": 0, "x2": 0.5, "y2": 0.5, "r2": 0.55,
                  "stops": [{"offset": 0, "color": "#d8f5e4"}, {"offset": 0.45, "color": "#46b874"}, {"offset": 1, "color": "#1e7d47"}]}},
              "encoding": {
                "x": {"field": "carriers", "type": "quantitative"},
                "y": {"field": "lifetime", "type": "quantitative"}
              }
            },
            {
              "data": {"name": "dArrows"},
              "transform": [{"filter": "datum.film == 'LG film'"}],
              "mark": {"type": "rule", "strokeWidth": 2, "color": "#000"},
              "encoding": {
                "x": {"field": "x1", "type": "quantitative"},
                "x2": {"field": "x2"},
                "y": {"field": "y1", "type": "quantitative"},
                "y2": {"field": "y2"}
              }
            },
            {
              "data": {"name": "dArrows"},
              "transform": [{"filter": "datum.film == 'LG film'"}],
              "mark": {"type": "point", "filled": true, "size": 60, "color": "#000", "opacity": 1, "shape": "triangle-left"},
              "encoding": {
                "x": {"field": "x2", "type": "quantitative"},
                "y": {"field": "y2", "type": "quantitative"}
              }
            },
            {
              "data": {"name": "dLabels"},
              "transform": [{"filter": "datum.film == 'LG film'"}],
              "mark": {"type": "text", "align": "left", "baseline": "middle", "fontSize": 19, "text": "QY", "color": "#48b676"},
              "encoding": {
                "x": {"field": "carriers", "type": "quantitative"},
                "y": {"field": "lifetime", "type": "quantitative"}
              }
            },
            {
              "data": {"name": "dLabels"},
              "transform": [{"filter": "datum.film == 'LG film'"}],
              "mark": {"type": "text", "align": "left", "baseline": "middle", "fontSize": 13, "dx": 28, "dy": 7, "text": "PL", "color": "#48b676"},
              "encoding": {
                "x": {"field": "carriers", "type": "quantitative"},
                "y": {"field": "lifetime", "type": "quantitative"}
              }
            },
            {
              "data": {"name": "dLabels"},
              "transform": [{"filter": "datum.film == 'LG film'"}],
              "mark": {"type": "text", "align": "left", "baseline": "middle", "fontSize": 19, "dx": 44, "color": "#48b676"},
              "encoding": {
                "x": {"field": "carriers", "type": "quantitative"},
                "y": {"field": "lifetime", "type": "quantitative"},
                "text": {"field": "qy"}
              }
            },
            {
              "data": {"name": "dTicks"},
              "transform": [{"filter": "datum.axis == 'l'"}],
              "mark": {"type": "tick", "orient": "horizontal", "thickness": 1.5, "color": "#000000", "opacity": 1, "xOffset": 3.5},
              "encoding": {
                "x": {"datum": 0.3, "type": "quantitative"},
                "y": {"field": "v", "type": "quantitative"},
                "size": {"field": "kind", "type": "nominal", "scale": {"domain": ["major", "minor"], "range": [8, 5]}, "legend": null}
              }
            },
            {
              "data": {"name": "dTicks"},
              "transform": [{"filter": "datum.axis == 'l'"}],
              "mark": {"type": "tick", "orient": "horizontal", "thickness": 1.5, "color": "#000000", "opacity": 1, "xOffset": -3.5},
              "encoding": {
                "x": {"datum": 190, "type": "quantitative"},
                "y": {"field": "v", "type": "quantitative"},
                "size": {"field": "kind", "type": "nominal", "scale": {"domain": ["major", "minor"], "range": [8, 5]}, "legend": null}
              }
            }
          ]
        },
        {
          "layer": [
            {
              "data": {"name": "dAxis"},
              "mark": {"type": "point", "opacity": 0},
              "encoding": {
                "x": {"field": "fluence", "type": "quantitative", "scale": {"type": "log", "domain": [3.72, 2550], "nice": false},
                  "axis": {"orient": "top", "title": "Fluence (μJ cm⁻²)", "format": "d", "labelOverlap": false, "labelFlush": false, "labelPadding": 4, "titlePadding": 6,
                    "values": [10, 100, 1000], "tickSize": 8, "offset": -8, "zindex": 1}},
                "y": {"field": "lifetime", "type": "quantitative", "scale": {"domain": [0, 1], "nice": false, "zero": false}, "axis": null}
              }
            },
            {
              "data": {"name": "dTicks"},
              "transform": [{"filter": "datum.axis == 'f'"}],
              "mark": {"type": "tick", "orient": "vertical", "thickness": 1.5, "color": "#000000", "opacity": 1, "yOffset": 3.5},
              "encoding": {
                "x": {"field": "v", "type": "quantitative"},
                "y": {"datum": 1, "type": "quantitative"},
                "size": {"field": "kind", "type": "nominal", "scale": {"domain": ["major", "minor"], "range": [8, 5]}, "legend": null}
              }
            }
          ]
        }
      ]
    }
  ],
  "config": {
    "font": "Liberation Sans",
    "view": {"stroke": "#000000", "strokeWidth": 1.5},
    "axis": {"grid": false, "domain": false, "labelFlush": false, "tickColor": "#000000", "tickWidth": 1.5, "labelColor": "#000000", "titleColor": "#000000",
      "labelFontSize": 17, "titleFontSize": 20, "titleFontWeight": "normal", "labelFont": "Liberation Sans", "titleFont": "Liberation Sans"},
    "legend": {"titleFontWeight": "normal", "titleFontSize": 20, "labelFontSize": 20, "titleColor": "#000000", "labelColor": "#000000",
      "titleFont": "Liberation Sans", "labelFont": "Liberation Sans"},
    "title": {"fontWeight": "normal", "fontSize": 30, "color": "#000000", "anchor": "start", "font": "Liberation Sans", "frame": "group"},
    "text": {"font": "Liberation Sans"}
  }
}
